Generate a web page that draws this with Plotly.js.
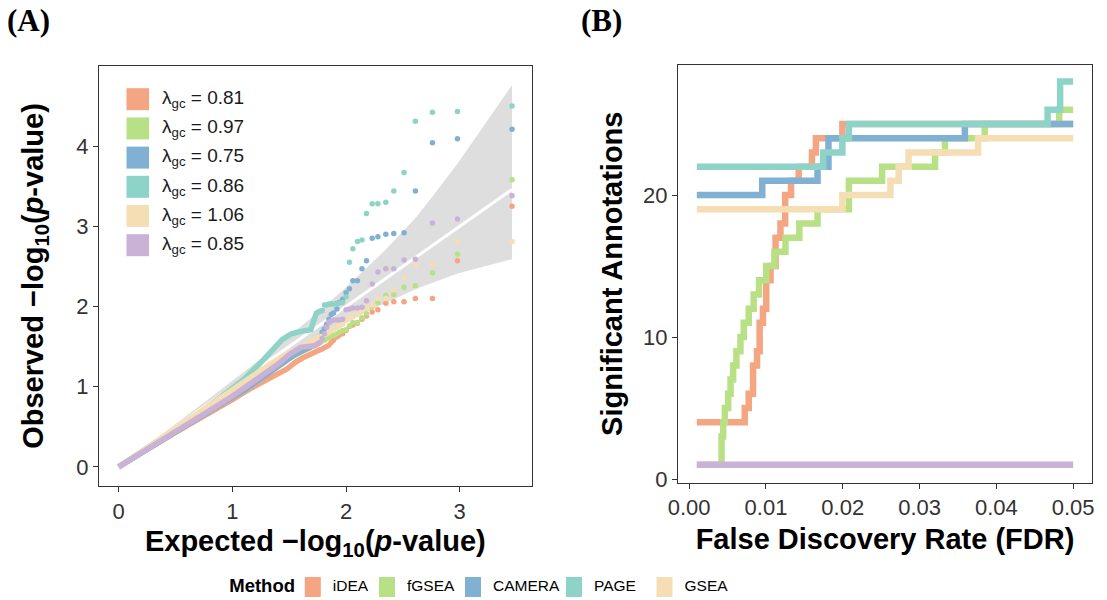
<!DOCTYPE html>
<html>
<head>
<meta charset="utf-8">
<script src="https://cdn.plot.ly/plotly-3.0.1.min.js"></script>
<style>
  html, body { margin: 0; padding: 0; background: #ffffff; }
  #chart { width: 1107px; height: 600px; }
</style>
</head>
<body>
<div id="chart"></div>
<script>
// ---------- data ----------
const methods = ['iDEA', 'fGSEA', 'CAMERA', 'PAGE', 'GSEA'];
const otherMethod = 'Method 6';
const lambdaGC = [0.81, 0.97, 0.75, 0.86, 1.06, 0.85];
const panelTags = ['(A)', '(B)'];

// Panel A: expected -log10(p) of the top-ranked annotations (rank 1 first)
const expectedTop = [3.46, 2.98, 2.76, 2.61, 2.51, 2.42, 2.35, 2.28, 2.23, 2.18, 2.14, 2.10, 2.06,
                     2.03, 2.00, 1.97, 1.94, 1.92, 1.89, 1.87, 1.85, 1.83, 1.81, 1.79, 1.77];

// observed -log10(p) for those ranks
const obsIDEA   = [3.25, 2.57, 2.10, 2.10, 2.06, 2.06, 2.04, 1.96, 1.93, 1.88, 1.84, 1.79, 1.77,
                   1.75, 1.70, 1.66, 1.64, 1.62, 1.58, 1.55, 1.52, 1.50, 1.49, 1.47, 1.46];
const obsFGSEA  = [3.58, 2.65, 2.42, 2.26, 2.24, 2.15, 2.14, 2.05, 2.00, 1.91, 1.86, 1.80, 1.80,
                   1.76, 1.71, 1.70, 1.68, 1.66, 1.64, 1.63, 1.61, 1.60, 1.58, 1.57, 1.55];
const obsCAMERA = [4.21, 4.09, 4.04, 3.44, 2.92, 2.91, 2.90, 2.87, 2.85, 2.57, 2.47, 2.32, 2.32,
                   2.22, 2.17, 2.09, 2.05, 1.97, 1.92, 1.90, 1.84, 1.78, 1.72, 1.68, 1.62];
const obsPAGE   = [4.50, 4.43, 4.42, 4.31, 3.67, 3.44, 3.30, 3.28, 3.28, 3.16, 2.83, 2.81, 2.72,
                   2.55, 2.12, 2.05, 2.04, 2.04, 2.03, 2.03, 2.03, 2.02, 2.02, 1.95, 1.94];
const obsGSEA   = [2.81, 2.81, 2.52, 2.51, 2.36, 2.21, 2.10, 2.10, 2.02, 1.98, 1.95, 1.90, 1.88,
                   1.85, 1.83, 1.78, 1.76, 1.74, 1.72, 1.70, 1.68, 1.66, 1.65, 1.63, 1.62];
const obsOther  = [3.38, 3.09, 3.04, 2.59, 2.58, 2.47, 2.47, 2.43, 2.28, 2.07, 1.99, 1.98, 1.98,
                   1.97, 1.96, 1.84, 1.83, 1.83, 1.83, 1.82, 1.80, 1.74, 1.66, 1.60, 1.55];

// dense body of each QQ curve (expected, observed)
const bodyXIDEA   = [1.77, 1.70, 1.62, 1.55, 1.48, 1.40, 1.30, 1.15, 1.00, 0.80, 0.50, 0.25, 0];
const bodyYIDEA   = [1.46, 1.42, 1.36, 1.30, 1.22, 1.16, 1.09, 0.97, 0.84, 0.68, 0.43, 0.22, 0];
const bodyXFGSEA  = [1.77, 1.70, 1.60, 1.50, 1.40, 1.25, 1.00, 0.75, 0.50, 0.25, 0];
const bodyYFGSEA  = [1.55, 1.50, 1.44, 1.37, 1.28, 1.15, 0.91, 0.69, 0.47, 0.24, 0];
const bodyXCAMERA = [1.77, 1.72, 1.68, 1.62, 1.55, 1.45, 1.30, 1.10, 0.85, 0.60, 0.30, 0];
const bodyYCAMERA = [1.62, 1.56, 1.49, 1.45, 1.40, 1.30, 1.15, 0.95, 0.74, 0.52, 0.26, 0];
const bodyXPAGE   = [1.77, 1.74, 1.71, 1.69, 1.60, 1.52, 1.44, 1.36, 1.25, 1.10, 0.95, 0.70, 0.40, 0.15, 0];
const bodyYPAGE   = [1.94, 1.92, 1.80, 1.71, 1.69, 1.66, 1.59, 1.46, 1.30, 1.09, 0.93, 0.66, 0.37, 0.13, 0];
const bodyXGSEA   = [1.77, 1.70, 1.60, 1.50, 1.40, 1.25, 1.00, 0.75, 0.50, 0.25, 0];
const bodyYGSEA   = [1.62, 1.57, 1.50, 1.42, 1.34, 1.20, 0.96, 0.72, 0.49, 0.25, 0];
const bodyXOther  = [1.77, 1.72, 1.60, 1.50, 1.40, 1.30, 1.15, 1.00, 0.75, 0.50, 0.25, 0];
const bodyYOther  = [1.55, 1.51, 1.49, 1.40, 1.28, 1.18, 1.05, 0.88, 0.66, 0.44, 0.22, 0];

// 95% confidence band of the expected quantiles
const ciX     = [0, 0.16, 0.46, 0.86, 1.16, 1.50, 1.77, 2.00, 2.18, 2.35, 2.51, 2.62, 2.76, 2.98, 3.46];
const ciLower = [0, 0.14, 0.43, 0.80, 1.08, 1.38, 1.61, 1.79, 1.93, 2.04, 2.15, 2.22, 2.30, 2.41, 2.59];
const ciUpper = [0, 0.17, 0.49, 0.92, 1.25, 1.63, 1.95, 2.24, 2.48, 2.71, 2.95, 3.12, 3.37, 3.78, 4.76];
const nullLine = [0, 3.46];

// Panel B: significant annotations vs FDR threshold (step curves)
const fdrIDEA   = [0.001, 0.00724, 0.00776, 0.00832, 0.00884, 0.00918, 0.00961, 0.01004, 0.0106,
                   0.01125, 0.01189, 0.0125, 0.01327, 0.01426, 0.01599, 0.0165, 0.01995, 0.05];
const sigIDEA   = [4, 5, 6, 8, 9, 11, 12, 14, 15, 17, 18, 20, 21, 22, 23, 24, 25, 25];
const fdrFGSEA  = [0.001, 0.00422, 0.00443, 0.00465, 0.00509, 0.00539, 0.00573, 0.00616, 0.00668,
                   0.00711, 0.00776, 0.0084, 0.0091, 0.01004, 0.0111, 0.01254, 0.01435, 0.01672,
                   0.0208, 0.02512, 0.03202, 0.03331, 0.03848, 0.04818, 0.05];
const sigFGSEA  = [1, 3, 4, 5, 6, 7, 8, 9, 10, 11, 12, 13, 14, 15, 16, 17, 18, 19,
                   21, 22, 23, 24, 25, 26, 26];
const fdrCAMERA = [0.001, 0.00952, 0.01672, 0.01814, 0.0359, 0.05];
const sigCAMERA = [20, 21, 22, 24, 25, 25];
const fdrPAGE   = [0.001, 0.01745, 0.01995, 0.0208, 0.04667, 0.0483, 0.05];
const sigPAGE   = [22, 23, 24, 25, 26, 28, 28];
const fdrGSEA   = [0.001, 0.01995, 0.0262, 0.02728, 0.02857, 0.03762, 0.05];
const sigGSEA   = [19, 20, 21, 22, 23, 24, 24];
const fdrOther  = [0.001, 0.05];
const sigOther  = [1, 1];

// ---------- styling ----------
const colors = ['#F4A582', '#B8E186', '#80B1D3', '#8DD3C7', '#F5DEB3', '#C9B2D6'];
const SANS = 'Liberation Sans, Arial, Helvetica, sans-serif';
const SERIF = 'Liberation Serif, Times New Roman, serif';
const W = 1107, H = 600;
const px = x => x / W;
const py = y => 1 - y / H;

const qqBodies = [
  [bodyXIDEA, bodyYIDEA], [bodyXFGSEA, bodyYFGSEA], [bodyXCAMERA, bodyYCAMERA],
  [bodyXPAGE, bodyYPAGE], [bodyXGSEA, bodyYGSEA], [bodyXOther, bodyYOther]
];
const qqTops = [obsIDEA, obsFGSEA, obsCAMERA, obsPAGE, obsGSEA, obsOther];
const steps = [
  [fdrIDEA, sigIDEA], [fdrFGSEA, sigFGSEA], [fdrCAMERA, sigCAMERA],
  [fdrPAGE, sigPAGE], [fdrGSEA, sigGSEA], [fdrOther, sigOther]
];
const allNames = methods.concat([otherMethod]);

const traces = [];

// confidence band and null diagonal
traces.push({
  x: ciX.concat(ciX.slice().reverse()),
  y: ciUpper.concat(ciLower.slice().reverse()),
  type: 'scatter', mode: 'lines', fill: 'toself',
  fillcolor: '#DEDEDE', line: { width: 0, color: '#DEDEDE' },
  xaxis: 'x', yaxis: 'y', showlegend: false, hoverinfo: 'skip'
});
traces.push({
  x: nullLine, y: nullLine, type: 'scatter', mode: 'lines',
  line: { color: '#FFFFFF', width: 3 },
  xaxis: 'x', yaxis: 'y', showlegend: false, hoverinfo: 'skip'
});

// QQ curves
allNames.forEach((name, i) => {
  traces.push({
    x: qqBodies[i][0], y: qqBodies[i][1], type: 'scatter', mode: 'lines',
    line: { color: colors[i], width: 5.5 },
    xaxis: 'x', yaxis: 'y', showlegend: false, name: name
  });
  traces.push({
    x: expectedTop, y: qqTops[i], type: 'scatter', mode: 'markers',
    marker: { color: colors[i], size: 5.5 },
    xaxis: 'x', yaxis: 'y', showlegend: false, name: name
  });
});

// FDR step curves
allNames.forEach((name, i) => {
  traces.push({
    x: steps[i][0], y: steps[i][1], type: 'scatter', mode: 'lines',
    line: { color: colors[i], width: 6.5, shape: 'hv' },
    xaxis: 'x2', yaxis: 'y2', showlegend: false, name: name
  });
});

// ---------- keys and panel tags, drawn on a full-page pixel overlay (x3/y3) ----------
const shapes = [];

// panel tags
traces.push({
  x: [7, 581], y: [23, 23], type: 'scatter', mode: 'text',
  text: panelTags.map(t => '<b>' + t + '</b>'), textposition: 'middle right',
  textfont: { family: SERIF, size: 31, color: '#000000' },
  xaxis: 'x3', yaxis: 'y3', showlegend: false, hoverinfo: 'skip', cliponaxis: false
});

// inset key of panel A
const keyRowsA = lambdaGC.map((lam, i) => 99.2 + i * 29.2);
keyRowsA.forEach((cy, i) => {
  shapes.push({ type: 'rect', xref: 'paper', yref: 'paper',
    x0: px(126.5), x1: px(149), y0: py(cy - 11), y1: py(cy + 11),
    fillcolor: colors[i], line: { width: 0 } });
});
traces.push({
  x: keyRowsA.map(() => 162), y: keyRowsA, type: 'scatter', mode: 'text',
  text: lambdaGC.map(lam => 'λ<sub>gc</sub> = ' + lam.toFixed(2)), textposition: 'middle right',
  textfont: { family: SANS, size: 19, color: '#1a1a1a' },
  xaxis: 'x3', yaxis: 'y3', showlegend: false, hoverinfo: 'skip', cliponaxis: false
});

// method key under the panels
const keyCentres = [312.8, 387, 473, 574, 664.5];
methods.forEach((m, i) => {
  const cx = keyCentres[i];
  shapes.push({ type: 'rect', xref: 'paper', yref: 'paper',
    x0: px(cx - 8), x1: px(cx + 8), y0: py(597), y1: py(577),
    fillcolor: colors[i], line: { width: 0 } });
});
traces.push({
  x: [295], y: [587], type: 'scatter', mode: 'text',
  text: ['<b>Method</b>'], textposition: 'middle left',
  textfont: { family: SANS, size: 18.5, color: '#000000' },
  xaxis: 'x3', yaxis: 'y3', showlegend: false, hoverinfo: 'skip', cliponaxis: false
});
traces.push({
  x: keyCentres.map(c => c + 20), y: keyCentres.map(() => 587), type: 'scatter', mode: 'text',
  text: methods, textposition: 'middle right',
  textfont: { family: SANS, size: 15.5, color: '#000000' },
  xaxis: 'x3', yaxis: 'y3', showlegend: false, hoverinfo: 'skip', cliponaxis: false
});

const axisBase = {
  showline: true, mirror: true, linecolor: '#333333', linewidth: 1.4,
  ticks: 'outside', ticklen: 5, tickwidth: 1.4, tickcolor: '#333333',
  showgrid: false, zeroline: false, automargin: false,
  tickfont: { family: SANS, size: 22, color: '#333333' }
};
const titleFont = { family: SANS, size: 29, color: '#000000', weight: 'bold' };
const overlayAxis = { visible: false, showgrid: false, zeroline: false, fixedrange: true, domain: [0, 1] };

const layout = {
  width: W, height: H, autosize: false,
  margin: { l: 0, r: 0, t: 0, b: 0, pad: 0 },
  paper_bgcolor: '#FFFFFF', plot_bgcolor: 'rgba(0,0,0,0)',
  font: { family: SANS },
  showlegend: false,
  xaxis: Object.assign({}, axisBase, {
    domain: [px(99), px(531.7)], range: [-0.173, 3.633], anchor: 'y',
    tickvals: [0, 1, 2, 3],
    title: { text: 'Expected \u2212log<sub>10</sub>(<i>p</i>-value)', font: titleFont, standoff: 8 }
  }),
  yaxis: Object.assign({}, axisBase, {
    domain: [py(486), py(66)], range: [-0.238, 4.998], anchor: 'x',
    tickvals: [0, 1, 2, 3, 4],
    title: { text: 'Observed \u2212log<sub>10</sub>(<i>p</i>-value)', font: titleFont, standoff: 24 }
  }),
  xaxis2: Object.assign({}, axisBase, {
    domain: [px(678), px(1092)], range: [-0.00145, 0.05245], anchor: 'y2',
    tickvals: [0, 0.01, 0.02, 0.03, 0.04, 0.05], tickformat: '.2f',
    title: { text: 'False Discovery Rate (FDR)', font: titleFont, standoff: 9 }
  }),
  yaxis2: Object.assign({}, axisBase, {
    domain: [py(482.7), py(64.7)], range: [-0.26, 29.18], anchor: 'x2',
    tickvals: [0, 10, 20],
    title: { text: 'Significant Annotations', font: titleFont, standoff: 11 }
  }),
  xaxis3: Object.assign({}, overlayAxis, { range: [0, W], anchor: 'y3' }),
  yaxis3: Object.assign({}, overlayAxis, { range: [H, 0], anchor: 'x3' }),
  shapes: shapes
};

Plotly.newPlot('chart', traces, layout, { displayModeBar: false });
</script>
</body>
</html>
